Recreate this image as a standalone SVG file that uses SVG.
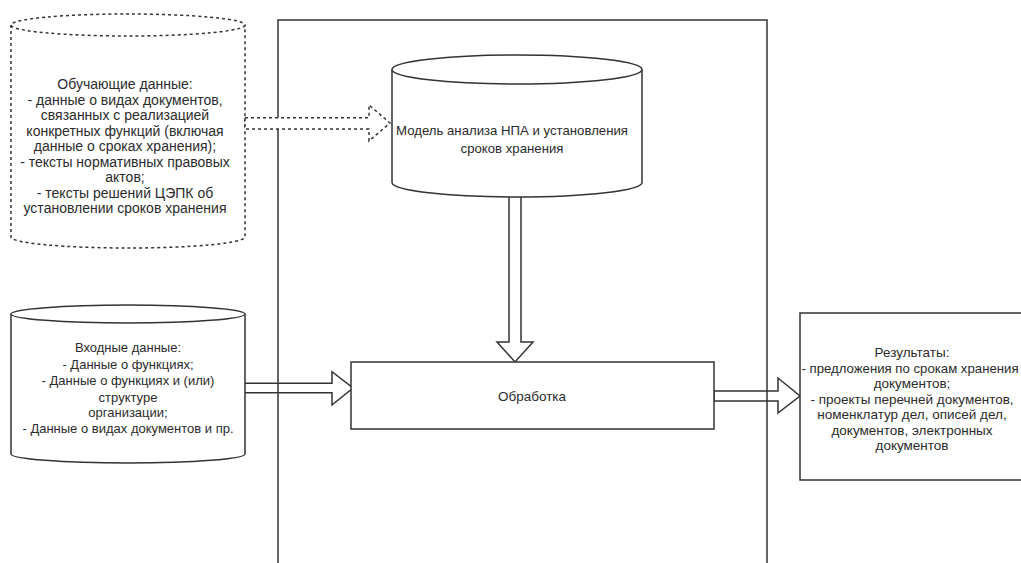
<svg xmlns="http://www.w3.org/2000/svg" width="1021" height="563" viewBox="0 0 1021 563">
<style>
.s{fill:#fff;stroke:#333;stroke-width:1.5}
.d{fill:#fff;stroke:#333;stroke-width:1.5;stroke-dasharray:3 3}
.n{fill:none;stroke:#333;stroke-width:1.5}
text{font-family:"Liberation Sans",Arial,sans-serif;font-size:13px;fill:#2b2b2b;text-anchor:middle}
.t{font-size:14px}
.r{font-size:13.5px}
.q{font-size:13.2px}
.m{font-size:13.2px}
</style>
<rect width="1021" height="563" fill="#fff"/>
<g id="connectors-solid">
<polygon class="s" points="244,383.3 332,383.3 332,371.7 353,388 332,405 332,392.7 244,392.7"/>
<polygon class="s" points="714,391 778,391 778,378 800,396 778,413 778,401 714,401"/>
</g>
<g id="system">
<rect class="n" x="278" y="20" width="489" height="560"/>
</g>
<g id="training">
<path class="d" d="M11,25 L11,237 A117,11 0 0 0 245,237 L245,25"/>
<ellipse class="d" cx="128" cy="25" rx="117" ry="11"/>
<text class="t" x="125" y="89">Обучающие данные:</text>
<text class="t" x="125" y="104.5">- данные о видах документов,</text>
<text class="t" x="125" y="120">связанных с реализацией</text>
<text class="t" x="125" y="135.5">конкретных функций (включая</text>
<text class="t" x="125" y="151">данные о сроках хранения);</text>
<text class="t" x="125" y="166.5">- тексты нормативных правовых</text>
<text class="t" x="125" y="182">актов;</text>
<text class="t" x="125" y="197.5">- тексты решений ЦЭПК об</text>
<text class="t" x="125" y="213">установлении сроков хранения</text>
</g>
<g id="connectors">
<polygon class="d" points="245,117.7 369,117.7 369,105 390,123 369,141 369,129 245,129"/>
<polygon class="s" points="509,196 521,196 521,342 533,342 515,362 497,342 509,342"/>
</g>
<g id="model">
<path class="s" d="M392,69.5 L392,182.5 A125,14.5 0 0 0 642,182.5 L642,69.5"/>
<ellipse class="s" cx="517" cy="69.5" rx="125" ry="14.5"/>
<text class="m" x="512" y="135">Модель анализа НПА и установления</text>
<text class="m" x="512" y="153">сроков хранения</text>
</g>
<g id="input">
<path class="s" d="M11,314 L11,454 A117,9 0 0 0 245,454 L245,314"/>
<ellipse class="s" cx="128" cy="314" rx="117" ry="9"/>
<text x="128" y="352">Входные данные:</text>
<text x="128" y="368.5">- Данные о функциях;</text>
<text x="128" y="385">- Данные о функциях и (или)</text>
<text x="128" y="401.5">структуре</text>
<text x="128" y="417">организации;</text>
<text x="128" y="433">- Данные о видах документов и пр.</text>
</g>
<g id="processing">
<rect class="s" x="351" y="362" width="363" height="67"/>
<text class="r" x="532" y="401">Обработка</text>
</g>
<g id="results">
<rect class="s" x="800" y="313" width="230" height="167"/>
<text class="r" x="912" y="357">Результаты:</text>
<text class="q" x="910" y="372.5">- предложения по срокам хранения</text>
<text class="r" x="912" y="388">документов;</text>
<text class="r" x="912" y="403.5">- проекты перечней документов,</text>
<text class="r" x="912" y="419">номенклатур дел, описей дел,</text>
<text class="r" x="912" y="434.5">документов, электронных</text>
<text class="r" x="912" y="450">документов</text>
</g>
</svg>
